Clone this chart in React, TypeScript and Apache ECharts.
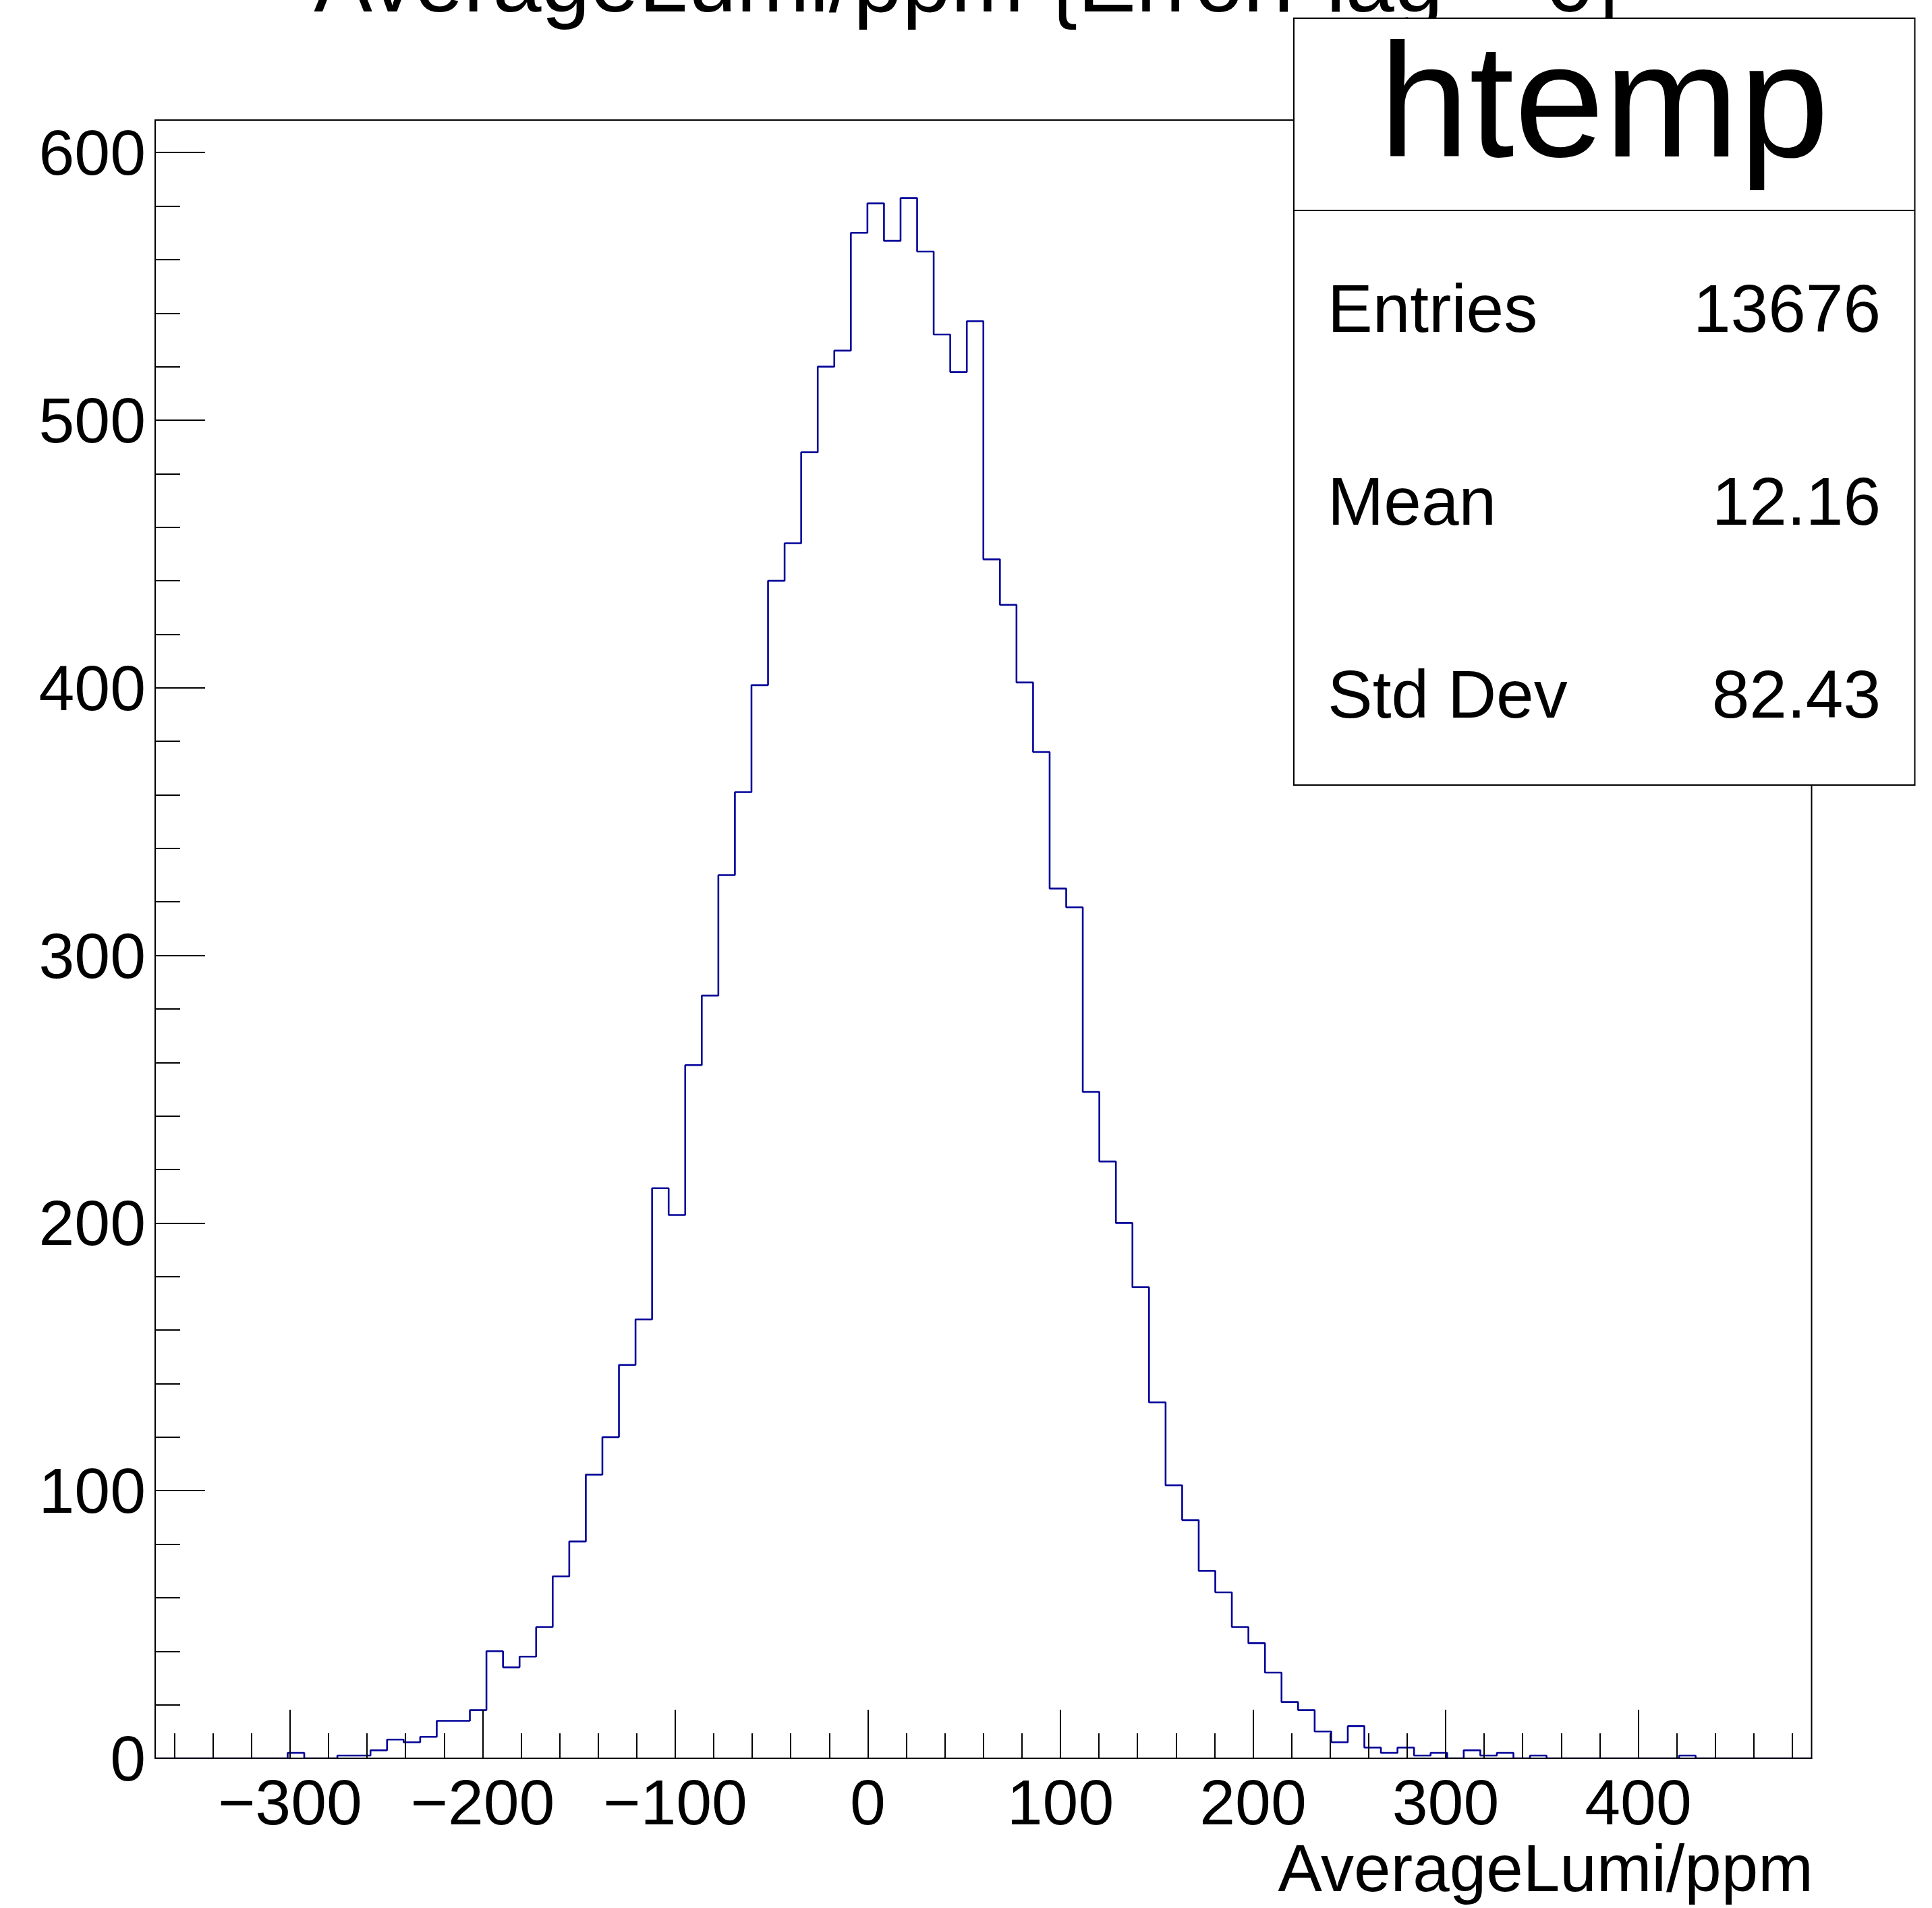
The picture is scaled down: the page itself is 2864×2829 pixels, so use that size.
import React, { useEffect, useRef } from "react";
import * as echarts from "echarts";

// Histogram binning (100 bins)
const binMin = -370;
const binWidth = 8.6;
const xMax = 490;
const yMax = 612.15;

// Bin contents
const counts = [
  0, 0, 0, 0, 0, 0, 0, 0, 2, 0,
  0, 1, 1, 3, 7, 6, 8, 14, 14, 18,
  40, 34, 38, 49, 68, 81, 106, 120, 147, 164,
  213, 203, 259, 285, 330, 361, 401, 440, 454, 488,
  520, 526, 570, 581, 567, 583, 563, 532, 518, 537,
  448, 431, 402, 376, 325, 318, 249, 223, 200, 176,
  133, 102, 89, 70, 62, 49, 43, 32, 21, 18,
  10, 6, 12, 4, 2, 4, 1, 2, 0, 3,
  1, 2, 0, 1, 0, 0, 0, 0, 0, 0,
  0, 0, 1, 0, 0, 0, 0, 0, 0, 0,
];

const xMajorTicks = [-300, -200, -100, 0, 100, 200, 300, 400];
const xMinorTicks = [
  -360, -340, -320, -300, -280, -260, -240, -220, -200, -180, -160, -140, -120, -100,
  -80, -60, -40, -20, 0, 20, 40, 60, 80, 100, 120, 140, 160, 180, 200, 220, 240, 260,
  280, 300, 320, 340, 360, 380, 400, 420, 440, 460, 480,
];
const yMajorTicks = [0, 100, 200, 300, 400, 500, 600];
const yMinorTicks = [
  0, 20, 40, 60, 80, 100, 120, 140, 160, 180, 200, 220, 240, 260, 280, 300, 320, 340,
  360, 380, 400, 420, 440, 460, 480, 500, 520, 540, 560, 580, 600,
];

const titleText = "AverageLumi/ppm {ErrorFlag==0}";
const xAxisTitle = "AverageLumi/ppm";
const statsName = "htemp";
const statsLabels = ["Entries", "Mean", "Std Dev"];
const statsValues = ["13676", "12.16", "82.43"];

const FONT = '"Liberation Sans", Arial, Helvetica, sans-serif';

export default function App() {
  const ref = useRef<HTMLDivElement>(null);

  useEffect(() => {
    if (!ref.current) return;
    const chart = echarts.init(ref.current, null, { renderer: "svg" });

    const histData: number[][] = counts.map((c, i) => [binMin + i * binWidth, c]);
    histData.push([binMin + counts.length * binWidth, counts[counts.length - 1]]);

    const fmt = (v: number) => (v < 0 ? "\u2212" + Math.abs(v) : String(v));

    const gridL = 230;
    const gridT = 178;
    const gridW = 2455.5;
    const gridH = 2429;

    const statsRowY = [457, 743, 1028.5];

    const graphic: any[] = [
      {
        type: "text",
        x: 1436,
        y: -28,
        z: 50,
        style: { text: titleText, fontFamily: FONT, fontSize: 130, fill: "#000", align: "center", verticalAlign: "middle" },
      },
      {
        type: "text",
        x: 2688,
        y: 2770,
        z: 50,
        style: { text: xAxisTitle, fontFamily: FONT, fontSize: 98, fill: "#000", align: "right", verticalAlign: "middle" },
      },
      {
        type: "rect",
        z: 100,
        shape: { x: 1918, y: 27, width: 920.5, height: 1137 },
        style: { fill: "#fff", stroke: "#000", lineWidth: 2 },
      },
      {
        type: "line",
        z: 101,
        shape: { x1: 1918, y1: 312, x2: 2838.5, y2: 312 },
        style: { stroke: "#000", lineWidth: 2 },
      },
      {
        type: "text",
        x: 2378,
        y: 149,
        z: 101,
        style: { text: statsName, fontFamily: FONT, fontSize: 240, fill: "#000", align: "center", verticalAlign: "middle" },
      },
    ];
    statsLabels.forEach((lab, i) => {
      graphic.push({
        type: "text",
        x: 1968,
        y: statsRowY[i],
        z: 101,
        style: { text: lab, fontFamily: FONT, fontSize: 100, fill: "#000", align: "left", verticalAlign: "middle" },
      });
      graphic.push({
        type: "text",
        x: 2788,
        y: statsRowY[i],
        z: 101,
        style: { text: statsValues[i], fontFamily: FONT, fontSize: 100, fill: "#000", align: "right", verticalAlign: "middle" },
      });
    });

    const axisLineStyle = { color: "#000", width: 2 };

    chart.setOption({
      animation: false,
      backgroundColor: "#fff",
      grid: {
        left: gridL,
        top: gridT,
        width: gridW,
        height: gridH,
        show: true,
        borderColor: "#000",
        borderWidth: 2,
        backgroundColor: "transparent",
        containLabel: false,
      },
      xAxis: [
        {
          type: "value",
          gridIndex: 0,
          position: "bottom",
          min: binMin,
          max: xMax,
          z: 5,
          axisLine: { show: true, onZero: false, lineStyle: axisLineStyle },
          axisTick: { show: true, inside: true, length: 72, lineStyle: axisLineStyle, customValues: xMajorTicks },
          axisLabel: {
            show: true,
            customValues: xMajorTicks,
            formatter: fmt,
            fontFamily: FONT,
            fontSize: 95,
            lineHeight: 95,
            color: "#000",
            margin: 17,
          },
          splitLine: { show: false },
        },
        {
          type: "value",
          gridIndex: 0,
          position: "bottom",
          min: binMin,
          max: xMax,
          z: 5,
          axisLine: { show: false, onZero: false },
          axisTick: { show: true, inside: true, length: 37, lineStyle: axisLineStyle, customValues: xMinorTicks },
          axisLabel: { show: false },
          splitLine: { show: false },
        },
      ],
      yAxis: [
        {
          type: "value",
          gridIndex: 0,
          position: "left",
          min: 0,
          max: yMax,
          z: 5,
          axisLine: { show: true, onZero: false, lineStyle: axisLineStyle },
          axisTick: { show: true, inside: true, length: 74, lineStyle: axisLineStyle, customValues: yMajorTicks },
          axisLabel: {
            show: true,
            customValues: yMajorTicks,
            fontFamily: FONT,
            fontSize: 95,
            color: "#000",
            margin: 14,
            padding: [12, 0, 0, 0],
          },
          splitLine: { show: false },
        },
        {
          type: "value",
          gridIndex: 0,
          position: "left",
          min: 0,
          max: yMax,
          z: 5,
          axisLine: { show: false, onZero: false },
          axisTick: { show: true, inside: true, length: 37, lineStyle: axisLineStyle, customValues: yMinorTicks },
          axisLabel: { show: false },
          splitLine: { show: false },
        },
      ],
      series: [
        {
          type: "line",
          xAxisIndex: 0,
          yAxisIndex: 0,
          step: "end",
          data: histData,
          showSymbol: false,
          symbol: "none",
          clip: true,
          z: 2,
          lineStyle: { color: "#000099", width: 2.6 },
        },
      ],
      graphic,
    });

    return () => {
      chart.dispose();
    };
  }, []);

  return (
    <div
      ref={ref}
      style={{ position: "fixed", left: 0, top: 0, width: 2864, height: 2829, background: "#fff" }}
    />
  );
}
